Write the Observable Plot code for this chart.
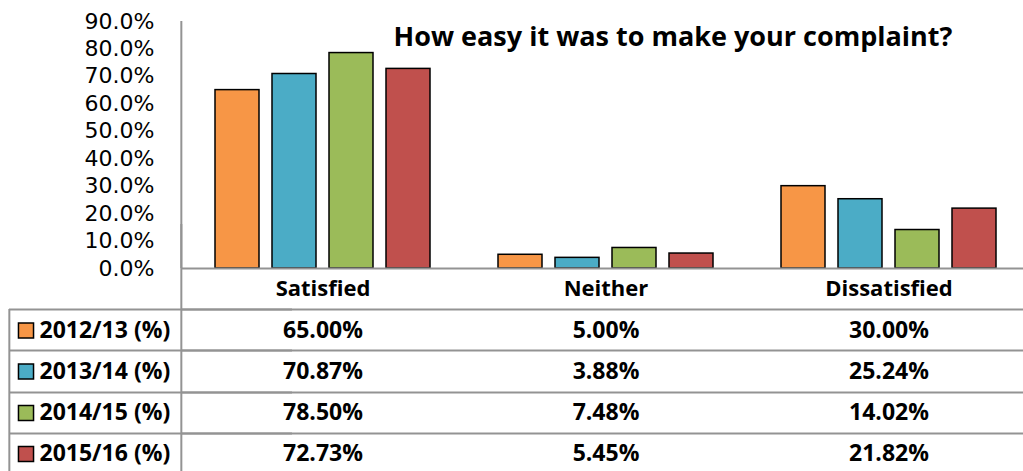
<!DOCTYPE html>
<html>
<head>
<meta charset="utf-8">
<script src="https://cdn.jsdelivr.net/npm/d3@7"></script>
<script src="https://cdn.jsdelivr.net/npm/@observablehq/plot@0.6"></script>
<style>
  html, body { margin: 0; padding: 0; background: #fff; overflow: hidden; }
</style>
</head>
<body>
<div id="chart"></div>
<script>
const categories = ["Satisfied", "Neither", "Dissatisfied"];
const series = ["2012/13 (%)", "2013/14 (%)", "2014/15 (%)", "2015/16 (%)"];
const values2012 = [65.00, 5.00, 30.00];
const values2013 = [70.87, 3.88, 25.24];
const values2014 = [78.50, 7.48, 14.02];
const values2015 = [72.73, 5.45, 21.82];
const colors = ["#F79646", "#4BACC6", "#9BBB59", "#C0504D"];
const yTicks = [0, 10, 20, 30, 40, 50, 60, 70, 80, 90];
const title = "How easy it was to make your complaint?";

const seriesValues = [values2012, values2013, values2014, values2015];
const data = series.flatMap((s, i) =>
  categories.map((c, j) => ({series: s, category: c, value: seriesValues[i][j]}))
);

const W = 1023, H = 471, ML = 180, MR = -7, MT = 21, MB = 203;
const facetW = (W - MR - ML) / categories.length;
const firstCenter = ML + facetW / 2;
const gridColor = "#939393";
const rowTextDy = [62, 103, 144.5, 185.5];
const rowLineDy = [41, 82, 124, 165];
const boldFont = "'Open Sans', sans-serif";

const marks = [];

// bars
marks.push(Plot.barY(data, {
  fx: "category", x: "series", y: "value", fill: "series",
  stroke: "#000", strokeWidth: 1.5
}));

// baseline
marks.push(Plot.ruleY([0], {stroke: gridColor, strokeWidth: 2}));

// y axis
marks.push(Plot.axisY(yTicks, {
  tickSize: 0, tickPadding: 27, label: null, fontSize: 22,
  fontFamily: "'DejaVu Sans', sans-serif",
  tickFormat: d => d.toFixed(1) + "%"
}));

// vertical axis line (through chart and table)
marks.push(Plot.ruleX([0], {fx: [categories[0]], x: null, dx: ML - firstCenter, stroke: gridColor, strokeWidth: 2}));
marks.push(Plot.ruleX([0], {fx: [categories[0]], x: null, dx: ML - firstCenter, dy: MB, stroke: gridColor, strokeWidth: 2}));
// left table border
marks.push(Plot.ruleX([0], {fx: [categories[0]], x: null, dx: 8 - firstCenter, dy: 288, stroke: gridColor, strokeWidth: 2}));

// table horizontal lines
for (const dy of rowLineDy) {
  marks.push(Plot.ruleY([0], {dy, stroke: gridColor, strokeWidth: 2}));
  marks.push(Plot.ruleY([0], {fx: [categories[0]], dx: 8 - ML, dy, stroke: gridColor, strokeWidth: 2}));
}

// category labels
marks.push(Plot.text(categories, {
  fx: d => d, text: d => d, frameAnchor: "bottom", lineAnchor: "middle", dy: 20,
  fontWeight: "bold", fontSize: 22, fontFamily: boldFont, fill: "#000"
}));

// table rows
series.forEach((s, i) => {
  marks.push(Plot.text(data.filter(d => d.series === s), {
    fx: "category", text: d => d.value.toFixed(2) + "%",
    frameAnchor: "bottom", lineAnchor: "middle", dy: rowTextDy[i],
    fontWeight: "bold", fontSize: 23, fontFamily: boldFont, fill: "#000"
  }));
  marks.push(Plot.text([s], {
    fx: [categories[0]], text: d => d, frameAnchor: "bottom-left", lineAnchor: "middle",
    textAnchor: "start", dx: 38 - ML, dy: rowTextDy[i],
    fontWeight: "bold", fontSize: 23, fontFamily: boldFont, fill: "#000"
  }));
  marks.push(Plot.dot([s], {
    fx: [categories[0]], fill: d => d, symbol: "square", r: 8.5,
    stroke: "#000", strokeWidth: 1.5, frameAnchor: "bottom-left",
    dx: 24.5 - ML, dy: rowTextDy[i]
  }));
});

// title
marks.push(Plot.text([title], {
  fx: [categories[1]], text: d => d, frameAnchor: "top", lineAnchor: "middle",
  dx: 67, dy: 16, fontWeight: "bold", fontSize: 27, fontFamily: boldFont, fill: "#000"
}));

const chart = Plot.plot({
  width: W, height: H,
  marginLeft: ML, marginRight: MR, marginTop: MT, marginBottom: MB,
  style: {fontFamily: "'Open Sans', sans-serif", color: "#000", background: "#fff"},
  fx: {domain: categories, padding: 0, axis: null},
  x: {domain: series, paddingInner: 0.233, paddingOuter: 0.589, axis: null},
  y: {domain: [0, 90]},
  color: {domain: series, range: colors},
  marks
});
document.getElementById("chart").appendChild(chart);
</script>
</body>
</html>
